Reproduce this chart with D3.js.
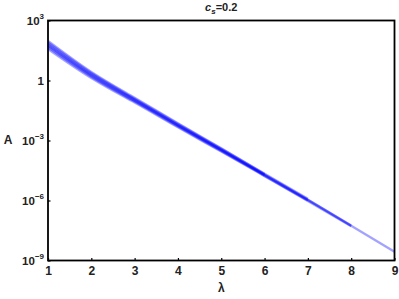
<!DOCTYPE html>
<html>
<head>
<meta charset="utf-8">
<script src="https://cdn.jsdelivr.net/npm/d3@7"></script>
<style>
  body { margin: 0; background: #fff; }
  svg { display: block; font-family: "Liberation Sans", Arial, sans-serif; font-weight: bold; }
</style>
</head>
<body>
<svg id="chart"></svg>
<script>
// lambda grid and log10(A) of each run
const lambda = [1, 2, 3, 4, 5, 6, 7, 8, 9];
const runA = [1.78, 0.28, -0.98, -2.24, -3.47, -4.72, -5.97, -7.26, -8.56];
const runB = [1.98, 0.43, -0.86, -2.14, -3.39, -4.66, -5.92];
const runC = [1.58, 0.13, -1.10, -2.34, -3.55, -4.78, -6.02, -7.29];
const runD = [1.90, 0.37, -0.91, -2.18, -3.42, -4.68];
const runE = [1.66, 0.19, -1.05, -2.30, -3.52, -4.76, -6.00];
const runF = [1.84, 0.32, -0.95, -2.22, -3.45, -4.71, -5.96, -7.25];
const runG = [1.72, 0.24, -1.01, -2.26, -3.49, -4.73];
const runs = [runA, runB, runC, runD, runE, runF, runG];

const xTicks = [1, 2, 3, 4, 5, 6, 7, 8, 9];
const yTicks = [1e3, 1, 1e-3, 1e-6, 1e-9];
const yTickExp = ["3", "", "\u22123", "\u22126", "\u22129"];

const width = 399, height = 299;
const marginTop = 20.5, marginRight = 4.5, marginBottom = 38.5, marginLeft = 48;

const svg = d3.select("#chart")
    .attr("width", width)
    .attr("height", height)
    .attr("viewBox", [0, 0, width, height]);

const x = d3.scaleLinear([1, 9], [marginLeft, width - marginRight]);
const y = d3.scaleLog([1e-9, 1e3], [height - marginBottom, marginTop]);

const line = d3.line()
    .curve(d3.curveNatural)
    .x((d, i) => x(lambda[i]))
    .y(d => y(Math.pow(10, d)));

// the bundle of runs
svg.append("g")
    .attr("fill", "none")
    .attr("stroke", "rgb(0,0,255)")
    .attr("stroke-opacity", 0.36)
    .attr("stroke-width", 2.4)
  .selectAll("path")
  .data(runs)
  .join("path")
    .attr("d", d => line(d));

// x axis
svg.append("g")
    .attr("transform", `translate(0,${height - marginBottom})`)
    .call(d3.axisBottom(x).tickValues(xTicks).tickSizeInner(-2.5).tickSizeOuter(0).tickPadding(6).tickFormat(d3.format("d")))
    .call(g => g.select(".domain").remove())
    .call(g => g.selectAll(".tick line").attr("stroke-width", 1.2))
    .call(g => g.selectAll(".tick text")
        .attr("font-size", 12)
        .attr("font-family", "Liberation Sans, Arial, sans-serif")
        .attr("font-weight", "bold")
        .attr("fill", "#222"));

// y axis, labels as powers of ten
svg.append("g")
    .attr("transform", `translate(${marginLeft},0)`)
    .call(d3.axisLeft(y).tickValues(yTicks).tickSizeInner(-2.5).tickSizeOuter(0).tickFormat(""))
    .call(g => g.select(".domain").remove())
    .call(g => g.selectAll(".tick line").attr("stroke-width", 1.2))
    .call(g => g.selectAll(".tick").each(function(d, i) {
      const t = d3.select(this).append("text")
          .attr("x", -4)
          .attr("dy", "0.36em")
          .attr("text-anchor", "end")
          .attr("fill", "#222")
          .attr("font-size", 11.5)
          .attr("font-family", "Liberation Sans, Arial, sans-serif")
          .attr("font-weight", "bold");
      if (d === 1) { t.text("1"); return; }
      t.append("tspan").text("10");
      t.append("tspan").attr("font-size", 8).attr("dy", "-0.75em").text(yTickExp[i]);
    }));

// frame
svg.append("rect")
    .attr("x", marginLeft)
    .attr("y", marginTop)
    .attr("width", width - marginRight - marginLeft)
    .attr("height", height - marginBottom - marginTop)
    .attr("fill", "none")
    .attr("stroke", "#000")
    .attr("stroke-width", 1.8);

// axis labels
svg.append("text")
    .attr("x", 8)
    .attr("y", 144)
    .attr("text-anchor", "middle")
    .attr("font-size", 12)
    .attr("fill", "#222")
    .text("A");

svg.append("text")
    .attr("x", (marginLeft + width - marginRight) / 2)
    .attr("y", 292)
    .attr("text-anchor", "middle")
    .attr("font-size", 12)
    .attr("fill", "#222")
    .text("\u03bb");

// title
const title = svg.append("text")
    .attr("x", (marginLeft + width - marginRight) / 2)
    .attr("y", 11)
    .attr("text-anchor", "middle")
    .attr("font-size", 11)
    .attr("fill", "#222");
title.append("tspan").attr("font-style", "italic").text("c");
title.append("tspan").attr("font-style", "italic").attr("font-size", 8).attr("dy", 2.5).text("s");
title.append("tspan").attr("dy", -2.5).text("=0.2");
</script>
</body>
</html>
